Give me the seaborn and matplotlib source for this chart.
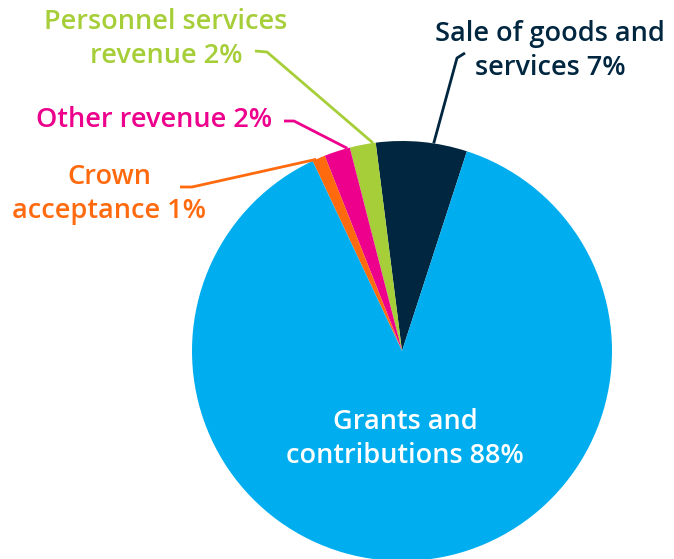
import numpy as np
import matplotlib
matplotlib.use("Agg")
import matplotlib.pyplot as plt
import seaborn as sns

sns.set_theme(style="white")
plt.rcParams['font.family'] = ['Open Sans', 'DejaVu Sans']

categories = ["Sale of goods and\nservices 7%", "Personnel services\nrevenue 2%",
              "Other revenue 2%", "Crown\nacceptance 1%", "Grants and\ncontributions 88%"]
values = [7, 2, 2, 1, 88]
colors = ["#002640", "#A6CE39", "#EC008C", "#FF6A0E", "#00AEEF"]

W, H = 674, 559
CX, CY, R = 402, 351, 210  # pixel centre & radius of pie


def px(x, y):
    return ((x - CX) / R, (CY - y) / R)


fig = plt.figure(figsize=(W / 100, H / 100), dpi=100)
ax = fig.add_axes([0, 0, 1, 1])
wedges, _ = ax.pie(values, colors=colors, startangle=72.0, counterclock=True,
                   radius=1.0, center=(0, 0), wedgeprops=dict(linewidth=0))
ax.set_xlim(px(0, 0)[0], px(W, 0)[0])
ax.set_ylim(px(0, H)[1], px(0, 0)[1])
ax.set_aspect('equal')
ax.axis('off')

fs = 19.5
fw = 600
ls = 1.28

specs = [
    dict(pos=(550, 51), ha='center', pts=[(465, 53), (457, 58)], frac=0.37),
    dict(pos=(166, 39), ha='center', pts=[(255, 51), (267, 52)], frac=0.1),
    dict(pos=(154, 120), ha='center', pts=[(284, 121), (294, 121)], frac=0.1),
    dict(pos=(109, 194), ha='center', pts=[(180, 187), (192, 187)], frac=0.7),
]

for i, sp in enumerate(specs):
    w = wedges[i]
    ax.text(*px(*sp['pos']), categories[i], ha=sp['ha'], va='center',
            color=colors[i], fontsize=fs, fontweight=fw, linespacing=ls)
    ang = np.deg2rad(w.theta1 + sp['frac'] * (w.theta2 - w.theta1))
    pts = [px(*p) for p in sp['pts']] + [(np.cos(ang), np.sin(ang))]
    xs, ys = zip(*pts)
    ax.plot(xs, ys, color=colors[i], lw=2, solid_capstyle='butt')

ax.text(*px(405, 439), categories[4], ha='center', va='center', color='white',
        fontsize=fs, fontweight=fw, linespacing=ls)

fig.savefig("out.png", dpi=100)
